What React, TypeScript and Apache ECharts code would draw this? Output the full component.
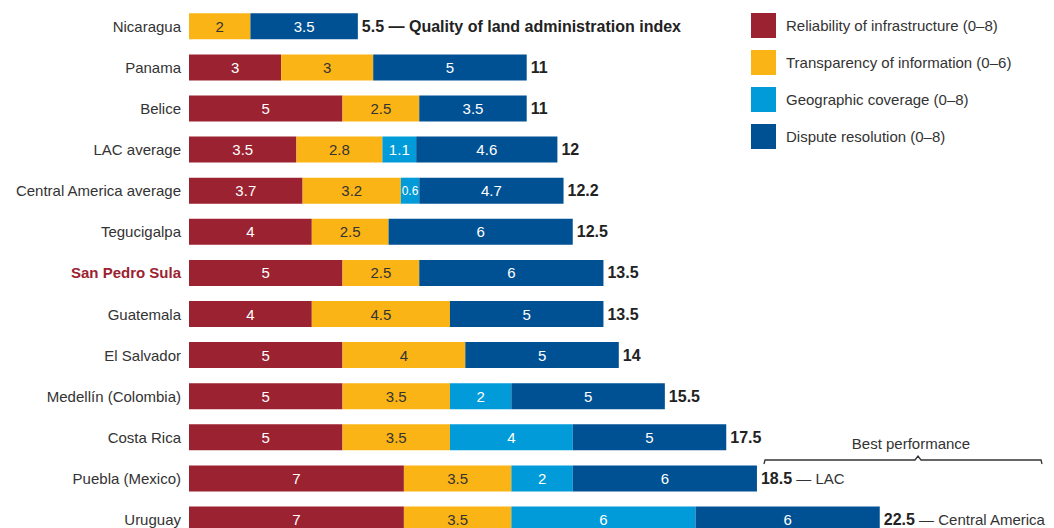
import React, { useEffect, useRef } from "react";
import * as echarts from "echarts";

const categories = [
  "Nicaragua",
  "Panama",
  "Belice",
  "LAC average",
  "Central America average",
  "Tegucigalpa",
  "San Pedro Sula",
  "Guatemala",
  "El Salvador",
  "Medellín (Colombia)",
  "Costa Rica",
  "Puebla (Mexico)",
  "Uruguay",
];
const reliability = [0, 3, 5, 3.5, 3.7, 4, 5, 4, 5, 5, 5, 7, 7];
const transparency = [2, 3, 2.5, 2.8, 3.2, 2.5, 2.5, 4.5, 4, 3.5, 3.5, 3.5, 3.5];
const coverage = [0, 0, 0, 1.1, 0.6, 0, 0, 0, 0, 2, 4, 2, 6];
const dispute = [3.5, 5, 3.5, 4.6, 4.7, 6, 6, 5, 5, 5, 5, 6, 6];
const totals = ["5.5", "11", "11", "12", "12.2", "12.5", "13.5", "13.5", "14", "15.5", "17.5", "18.5", "22.5"];
const notes = ["Quality of land administration index", "", "", "", "", "", "", "", "", "", "", "LAC", "Central America"];
const seriesNames = [
  "Reliability of infrastructure (0–8)",
  "Transparency of information (0–6)",
  "Geographic coverage (0–8)",
  "Dispute resolution (0–8)",
];
const colors = ["#9B2230", "#FBB415", "#009BD8", "#005193"];
const labelColors = ["#ffffff", "#333333", "#ffffff", "#ffffff"];
const highlight = "San Pedro Sula";

const FONT = "'Liberation Sans Narrow', 'Liberation Sans', Arial, sans-serif";

export default function App() {
  const ref = useRef<HTMLDivElement>(null);
  useEffect(() => {
    if (!ref.current) return;
    const chart = echarts.init(ref.current, null, { renderer: "svg" });
    const values = [reliability, transparency, coverage, dispute];
    const series: any[] = values.map((arr, i) => ({
      name: seriesNames[i],
      type: "bar",
      stack: "s",
      barWidth: 26,
      itemStyle: { color: colors[i] },
      label: {
        show: true,
        position: "inside",
        color: labelColors[i],
        fontFamily: FONT,
        fontSize: 15,
        formatter: (p: any) => (p.value ? String(p.value) : ""),
      },
      data: arr.map((v) => (v > 0 && v < 1 ? { value: v, label: { fontSize: 12 } } : v)),
    }));
    series.push({
      name: "Total",
      type: "bar",
      stack: "s",
      barWidth: 26,
      silent: true,
      itemStyle: { color: "transparent" },
      label: {
        show: true,
        position: "right",
        distance: 4,
        fontFamily: FONT,
        formatter: (p: any) => {
          const i = p.dataIndex;
          const t = `{b|${totals[i]}}`;
          if (!notes[i]) return t;
          return i === 0 ? `${t}{b| — ${notes[i]}}` : `${t}{n| — ${notes[i]}}`;
        },
        rich: {
          b: { fontFamily: FONT, fontSize: 16, fontWeight: "bold", color: "#222" },
          n: { fontFamily: FONT, fontSize: 15, color: "#333" },
        },
      },
      data: categories.map(() => 0),
    });

    chart.setOption({
      animation: false,
      backgroundColor: "#ffffff",
      legend: {
        data: seriesNames,
        orient: "vertical",
        left: 751,
        top: 13,
        padding: 0,
        itemWidth: 25,
        itemHeight: 25,
        itemGap: 12,
        icon: "rect",
        selectedMode: false,
        textStyle: { fontFamily: FONT, fontSize: 15, color: "#333", padding: [0, 0, 0, 5] },
      },
      grid: { left: 189, top: 5.75, width: 28 * 30.7, height: 13 * 41.1 },
      xAxis: {
        type: "value",
        min: 0,
        max: 28,
        show: false,
      },
      yAxis: {
        type: "category",
        inverse: true,
        data: categories,
        axisLine: { show: false },
        axisTick: { show: false },
        axisLabel: {
          margin: 8,
          fontFamily: FONT,
          fontSize: 15,
          color: "#333",
          formatter: (v: string) => (v === highlight ? `{h|${v}}` : v),
          rich: {
            h: { fontFamily: FONT, fontSize: 15, fontWeight: "bold", color: "#9B2230" },
          },
        },
      },
      graphic: [
        {
          type: "polyline",
          shape: {
            points: [
              [764, 464],
              [765, 460],
              [915, 460],
              [918, 456],
              [921, 460],
              [1041, 460],
              [1042, 464],
            ],
          },
          style: { stroke: "#333", lineWidth: 1.3, fill: null },
        },
        {
          type: "text",
          x: 911,
          y: 443,
          style: {
            text: "Best performance",
            fontFamily: FONT,
            fontSize: 15,
            fill: "#333",
            textAlign: "center",
            textVerticalAlign: "middle",
          },
        },
      ],
      series,
    });
    return () => chart.dispose();
  }, []);
  return (
    <div
      ref={ref}
      style={{ position: "fixed", left: 0, top: 0, width: 1054, height: 560, background: "#fff" }}
    />
  );
}
